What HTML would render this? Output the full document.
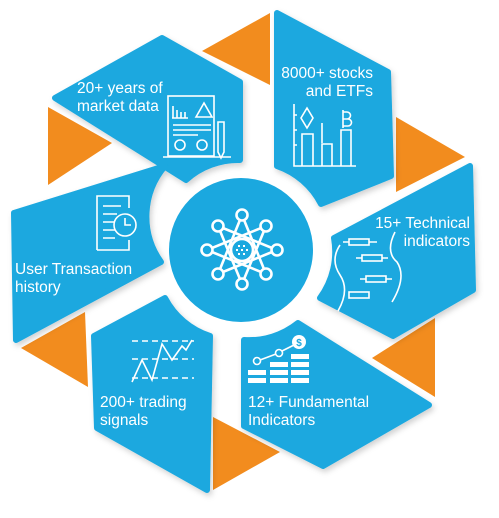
<!DOCTYPE html>
<html><head><meta charset="utf-8"><style>
html,body{margin:0;padding:0;background:#fff;}
svg{display:block}
text{font-family:"Liberation Sans",sans-serif;font-size:15.5px;fill:#fff;}
</style></head><body>
<svg width="499" height="518" viewBox="0 0 499 518" xmlns="http://www.w3.org/2000/svg">
<defs>
<filter id="sh" x="-20%" y="-20%" width="140%" height="140%"><feDropShadow dx="2" dy="3" stdDeviation="3" flood-color="#000" flood-opacity="0.18"/></filter>
</defs>
<g fill="#F28C1E">
<polygon points="202,51 270,13 270,85"/>
<polygon points="396,117 465,157 396,192"/>
<polygon points="435,318 435,397 372,358"/>
<polygon points="213,417 280,452 213,490"/>
<polygon points="21,348 85,312 88,387"/>
<polygon points="48,107 112,143 48,185"/>
</g>
<g fill="#1BA8DF" filter="url(#sh)" stroke="#1BA8DF" stroke-width="6" stroke-linejoin="round">
<path d="M55,98 L162,38 L240,82 L240,160 A78,78 0 0 0 186,180 Z"/>
<path d="M277,13 L388,72 L391,176 L321,204 A78,78 0 0 0 277,166 Z"/>
<path d="M470,166 L473,290 L393,336 L320,298 A78,78 0 0 0 334,238 Z"/>
<path d="M298,323 L429,405 L323,466 L244,426 L244,340 A78,78 0 0 0 298,323 Z"/>
<path d="M94,336 L165,298 A78,78 0 0 0 210,336 L207,490 L97,428 Z"/>
<path d="M14,213 L165,166 A78,78 0 0 0 161,262 L16,340 Z"/>
</g>
<circle cx="241" cy="250" r="72" fill="#1BA8DF"/>
<g stroke="#fff" stroke-width="2.6" fill="none">
<path d="M242,215 L266,274 L207,250 L266,226 L242,284 L218,226 L277,250 L218,274 Z"/>
<circle cx="242" cy="250" r="11"/>
<g fill="#1BA8DF">
<circle cx="242" cy="215" r="5.5"/><circle cx="266" cy="226" r="5.5"/><circle cx="277" cy="250" r="5.5"/><circle cx="266" cy="274" r="5.5"/>
<circle cx="242" cy="284" r="5.5"/><circle cx="218" cy="274" r="5.5"/><circle cx="207" cy="250" r="5.5"/><circle cx="218" cy="226" r="5.5"/>
</g>
</g>
<g fill="#fff"><rect x="238" y="245" width="2" height="2"/><rect x="243" y="245" width="2" height="2"/><rect x="236" y="249" width="2" height="2"/><rect x="241" y="249" width="2" height="2"/><rect x="246" y="249" width="2" height="2"/><rect x="238" y="253" width="2" height="2"/><rect x="243" y="253" width="2" height="2"/></g>
<text x="77" y="93">20+ years of</text>
<text x="77" y="111">market data</text>
<text x="373" y="78" text-anchor="end">8000+ stocks</text>
<text x="373" y="96" text-anchor="end">and ETFs</text>
<text x="470" y="228" text-anchor="end">15+ Technical</text>
<text x="470" y="246" text-anchor="end">indicators</text>
<text x="15" y="274">User Transaction</text>
<text x="15" y="292">history</text>
<text x="100" y="407">200+ trading</text>
<text x="100" y="425">signals</text>
<text x="248" y="407">12+ Fundamental</text>
<text x="248" y="425">Indicators</text>
<g stroke="#fff" stroke-width="1.6" fill="none">
<rect x="168" y="96" width="46" height="60"/>
<path d="M173,106 v12 M177,110 v8 M181,112 v6 M185,112 v6 M172,118 h16 M196,117 l8,-14 l8,14 z M173,125 h38 M173,130 h38 M173,135 h25"/>
<circle cx="180" cy="145" r="5"/><circle cx="202" cy="145" r="5"/>
<path d="M218,122 h6 v30 l-3,6 l-3,-6 z M163,157 h68"/>
<path d="M294,104 v62 h62 M294,115 h3 M294,130 h3 M294,145 h3"/>
<path d="M307,108 l6,10 l-6,10 l-6,-10 z M302,166 v-32 h11 v32 M322,166 v-22 h10 v22 M322,143 v-20 M341,166 v-36 h10 v36 M343,110 v18 M343,112 h4 a3,3 0 0 1 0,7 h-4 M343,119 h5 a3,3 0 0 1 0,7 h-5"/>
<path d="M340,245 q-10,15 0,30 q10,15 -2,36 M395,232 q-10,20 2,30 q10,15 -5,40"/>
<rect x="349" y="239" width="20" height="6"/><rect x="362" y="255" width="20" height="6"/>
<rect x="366" y="276" width="20" height="6"/><rect x="349" y="292" width="20" height="6"/>
<path d="M343,242 h6 M369,242 h8 M356,258 h6 M382,258 h6 M360,279 h6 M386,279 h6"/>
<path d="M97,250 v-54 h32 v12 M129,240 v10 h-32"/>
<path d="M103,206 h18 M103,214 h14 M103,222 h12 M103,230 h12 M103,238 h12"/>
<circle cx="125" cy="225" r="11"/><path d="M125,218 v7 h6"/>
<path d="M132,341 h62 M132,359 h62 M132,378 h62" stroke-dasharray="6,4"/>
<path d="M132,382 l10,-22 l10,20 l10,-36 l10,16 l10,-14 l4,4 l6,-10"/>
<circle cx="257" cy="361" r="3.5"/><circle cx="279" cy="353" r="3.5"/>
<path d="M260,360 l16,-6 M282,351 l12,-6"/>
</g>
<circle cx="299" cy="342" r="7" fill="#fff"/>
<text x="299" y="346" text-anchor="middle" style="font-size:10px;fill:#1BA8DF;font-weight:bold">$</text>
<g fill="#fff">
<rect x="248" y="370" width="18" height="5"/><rect x="248" y="378" width="18" height="5"/>
<rect x="270" y="362" width="18" height="5"/><rect x="270" y="370" width="18" height="5"/><rect x="270" y="378" width="18" height="5"/>
<rect x="291" y="354" width="18" height="5"/><rect x="291" y="362" width="18" height="5"/><rect x="291" y="370" width="18" height="5"/><rect x="291" y="378" width="18" height="5"/>
</g>
</svg>
</body></html>
